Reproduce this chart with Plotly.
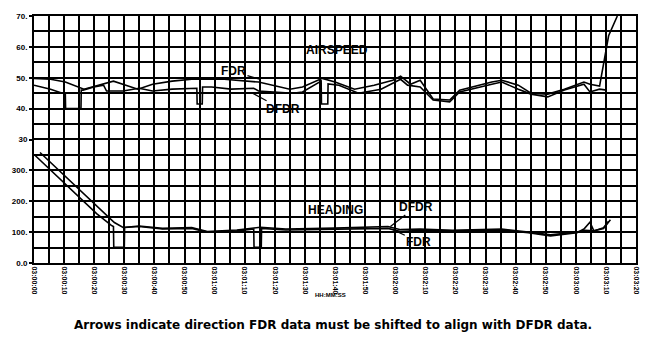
import plotly.graph_objects as go
from plotly.subplots import make_subplots

# ---- Airspeed (seconds after 03:00:00) ----
asp_fdr_t = [0, 5.5, 10.4, 16.6, 26.4, 34.5, 39.4, 45.9, 52.4, 59.0, 63.2, 74.6, 85.0, 89.2,
             95.8, 100.0, 106.5, 113.0, 119.2, 121.8, 125.1, 128.3, 132.6, 138.1, 141.4,
             152.1, 155.4, 160.9, 165.1, 170.7, 176.2, 182.7, 184.7, 187.9, 190.9, 193.8]
asp_fdr_v = [49.8, 49.5, 48.6, 46.3, 48.9, 46.3, 47.9, 48.9, 49.5, 49.5, 49.5, 48.6, 46.3, 47.0,
             49.8, 48.6, 46.3, 47.6, 49.2, 50.5, 47.9, 49.2, 43.1, 42.8, 46.0,
             48.6, 49.2, 47.6, 45.0, 44.7, 46.3, 48.6, 47.9, 47.3, 63.6, 70.0]

asp_dfdr_t = [0, 5.5, 9.4, 10.4, 10.5, 15.6, 15.7, 16.3, 19.9, 23.1, 24.1, 29.6, 34.9, 39.4,
              45.9, 53.4, 54.1, 54.2, 55.9, 56.0, 59.0, 65.5, 73.0, 74.6, 86.0, 89.2, 95.1,
              95.4, 95.5, 97.6, 97.7, 101.3, 107.8, 115.3, 121.8, 124.1, 128.3, 132.6,
              138.1, 141.4, 152.1, 155.4, 160.9, 165.1, 170.7, 176.2, 182.7, 184.7, 187.9, 190.2]
asp_dfdr_v = [47.6, 46.3, 45.0, 45.0, 40.0, 40.0, 46.0, 46.0, 47.0, 47.6, 45.7, 45.7, 46.6, 45.7,
              46.3, 46.6, 46.6, 41.5, 41.5, 47.0, 47.0, 46.3, 46.6, 45.7, 45.0, 45.4, 48.9,
              48.9, 41.5, 41.5, 48.0, 47.6, 45.0, 46.3, 49.5, 47.6, 47.0, 42.8,
              42.2, 45.4, 47.9, 48.6, 46.3, 44.7, 43.8, 46.0, 47.9, 45.4, 46.3, 46.0]

# ---- Heading ----
hdg_fdr_t = [0.3, 11.1, 20.8, 25.7, 26.4, 26.5, 30.0, 30.1, 34.9, 42.7, 52.4, 57.6, 67.4, 73.0,
             73.1, 75.5, 75.6, 83.7, 100.0, 117.6, 121.8, 128.3, 139.1, 155.4, 164.2, 171.6,
             180.4, 182.7, 184.7, 186.0, 189.2, 190.9]
hdg_fdr_v = [349, 250, 160, 122, 118, 51, 51, 115, 118, 110, 112, 100, 104, 110,
             51, 51, 112, 107, 110, 112, 102, 106, 104, 107, 98, 88,
             98, 110, 132, 104, 114, 135]

hdg_dfdr_t = [2.0, 12.7, 22.5, 26.7, 29.6, 34.9, 42.7, 52.4, 57.6, 67.4, 75.2, 83.7, 100.0,
              117.6, 121.8, 128.3, 139.1, 155.4, 164.2, 171.6, 180.4, 183.0, 186.0, 189.2, 191.5]
hdg_dfdr_v = [358, 259, 170, 131, 115, 120, 112, 115, 102, 107, 116, 110, 113,
              118, 108, 110, 106, 110, 100, 91, 100, 106, 104, 112, 140]

# ---- Axis labels ----
time_ticks = list(range(0, 201, 10))
time_labels = ["03:00:00", "03:00:10", "03:00:20", "03:00:30", "03:00:40", "03:00:50",
               "03:01:00", "03:01:10", "03:01:20", "03:01:30", "03:01:40", "03:01:50",
               "03:02:00", "03:02:10", "03:02:20", "03:02:30", "03:02:40", "03:02:50",
               "03:03:00", "03:03:10", "03:03:20"]
asp_ticks = [30, 40, 50, 60, 70]
asp_labels = ["30", "40.", "50.", "60.", "70."]
hdg_ticks = [0, 100, 200, 300]
hdg_labels = ["0.0", "100.", "200.", "300."]

FONT = "Liberation Sans"
WIDE = "DejaVu Sans"
INK = "black"

fig = make_subplots(rows=2, cols=1, shared_xaxes=True, vertical_spacing=0)

line_style = dict(color=INK, width=1.6)
fig.add_trace(go.Scatter(x=asp_fdr_t, y=asp_fdr_v, mode="lines", line=line_style, name="FDR"), 1, 1)
fig.add_trace(go.Scatter(x=asp_dfdr_t, y=asp_dfdr_v, mode="lines", line=line_style, name="DFDR"), 1, 1)
fig.add_trace(go.Scatter(x=hdg_fdr_t, y=hdg_fdr_v, mode="lines", line=line_style, name="FDR"), 2, 1)
fig.add_trace(go.Scatter(x=hdg_dfdr_t, y=hdg_dfdr_v, mode="lines", line=line_style, name="DFDR"), 2, 1)

grid = dict(showgrid=True, gridcolor=INK, gridwidth=2, zeroline=False,
            showline=True, linecolor=INK, linewidth=2)
tickfont = dict(family=FONT, size=7, color=INK, weight="bold")

fig.update_xaxes(range=[0, 200], tickvals=time_ticks, ticktext=time_labels, tickangle=90,
                 tickfont=tickfont, ticks="", minor=dict(dtick=5, showgrid=True,
                 gridcolor=INK, gridwidth=2), **grid)
# upper panel: only its top border; the shared middle line comes from the lower panel
fig.update_xaxes(showticklabels=False, side="top", mirror=False, row=1, col=1)
fig.update_xaxes(mirror=True, row=2, col=1)

yfont = dict(family=FONT, size=8, color=INK, weight="bold")
fig.update_yaxes(range=[30, 70], tickvals=asp_ticks, ticktext=asp_labels, tickfont=yfont,
                 ticks="outside", ticklen=3, tickwidth=1.5, tickcolor=INK, mirror=True,
                 minor=dict(dtick=5, showgrid=True, gridcolor=INK, gridwidth=2),
                 row=1, col=1, **grid)
fig.update_yaxes(range=[0, 400], tickvals=hdg_ticks, ticktext=hdg_labels, tickfont=yfont,
                 ticks="outside", ticklen=3, tickwidth=1.5, tickcolor=INK, mirror=True,
                 minor=dict(dtick=50, showgrid=True, gridcolor=INK, gridwidth=2),
                 row=2, col=1, **grid)

lbl = dict(family=FONT, size=12, color=INK, weight="bold")
annotations = [
    dict(text="AIRSPEED", x=100.5, y=58.9, xref="x", yref="y", showarrow=False, font=lbl),
    dict(text="FDR", x=74.9, y=49.5, xref="x", yref="y", ax=-26, ay=-8, showarrow=True,
         arrowhead=0, arrowwidth=1.2, arrowcolor=INK, font=lbl),
    dict(text="DFDR", x=72.6, y=45.0, xref="x", yref="y", ax=30, ay=16, showarrow=True,
         arrowhead=0, arrowwidth=1.2, arrowcolor=INK, font=lbl),
    dict(text="HEADING", x=100.2, y=172.8, xref="x2", yref="y2", showarrow=False, font=lbl),
    dict(text="DFDR", x=118.4, y=118, xref="x2", yref="y2", ax=26, ay=-20, showarrow=True,
         arrowhead=0, arrowwidth=1.2, arrowcolor=INK, font=lbl),
    dict(text="FDR", x=119.2, y=108, xref="x2", yref="y2", ax=26, ay=12, showarrow=True,
         arrowhead=0, arrowwidth=1.2, arrowcolor=INK, font=lbl),
    dict(text="HH:MM:SS", x=0.492, y=-0.15, xref="paper", yref="paper", showarrow=False,
         font=dict(family=FONT, size=6, color=INK, weight="bold")),
    dict(text="Arrows indicate direction FDR data must be shifted to align with DFDR data.",
         x=0.497, y=-0.25, xref="paper", yref="paper", showarrow=False, yanchor="middle",
         font=dict(family=WIDE, size=12, color=INK, weight="bold")),
]

fig.update_layout(width=652, height=340, margin=dict(l=26, r=12, t=12, b=77),
                  paper_bgcolor="white", plot_bgcolor="white", showlegend=False,
                  annotations=annotations)

fig.write_html("out.html")
